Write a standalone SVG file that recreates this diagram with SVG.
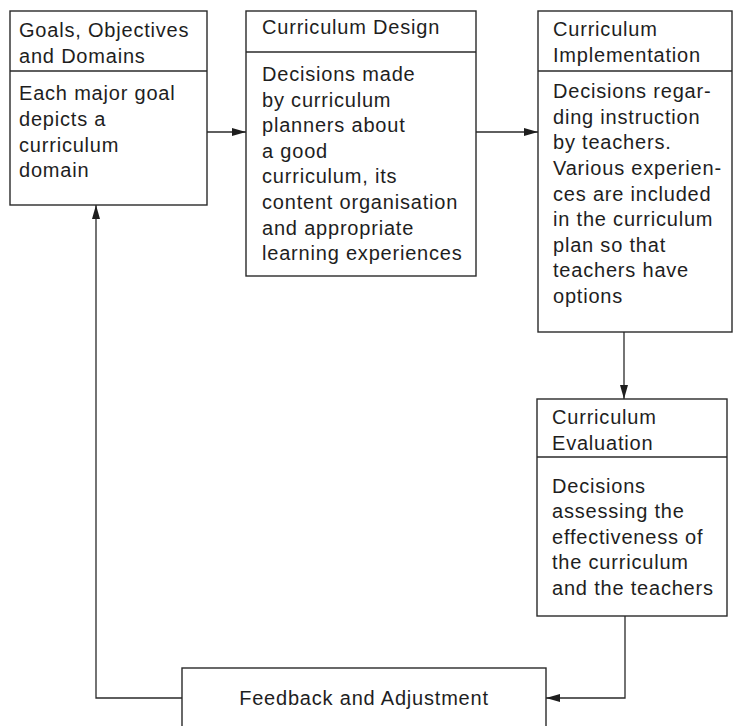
<svg xmlns="http://www.w3.org/2000/svg" width="734" height="726" viewBox="0 0 734 726">
<style>
.box{fill:#fff;stroke:#2a2a2a;stroke-width:1.4}
.div{stroke:#2a2a2a;stroke-width:1.3}
.t{font-family:"Liberation Sans",Arial,sans-serif;font-size:20px;letter-spacing:0.8px;fill:#1e1e1e}
.c{fill:none;stroke:#2a2a2a;stroke-width:1.3}
</style>
<defs>
<marker id="ah" viewBox="0 0 14 8" refX="14" refY="4" markerWidth="14" markerHeight="8" markerUnits="userSpaceOnUse" orient="auto">
<path d="M0,0 L14,4 L0,8 Z" fill="#1e1e1e"/>
</marker>
</defs>
<rect width="734" height="726" fill="#fff"/>
<g id="connectors">
<line class="c" x1="207" y1="132" x2="246" y2="132" marker-end="url(#ah)"/>
<line class="c" x1="476" y1="132" x2="538" y2="132" marker-end="url(#ah)"/>
<line class="c" x1="624" y1="332" x2="624" y2="399" marker-end="url(#ah)"/>
<polyline class="c" points="625,616 625,698 546,698" marker-end="url(#ah)"/>
<polyline class="c" points="182,698 96,698 96,205" marker-end="url(#ah)"/>
</g>
<g id="goals">
<rect class="box" x="10" y="11" width="197" height="194"/>
<line class="div" x1="10" y1="71" x2="207" y2="71"/>
<text class="t"><tspan x="19" y="37">Goals, Objectives</tspan><tspan x="19" y="63">and Domains</tspan></text>
<text class="t"><tspan x="19" y="100">Each major goal</tspan><tspan x="19" y="126">depicts a</tspan><tspan x="19" y="152">curriculum</tspan><tspan x="19" y="177">domain</tspan></text>
</g>
<g id="design">
<rect class="box" x="246" y="11" width="230" height="265"/>
<line class="div" x1="246" y1="52" x2="476" y2="52"/>
<text class="t"><tspan x="262" y="34">Curriculum Design</tspan></text>
<text class="t"><tspan x="262" y="81">Decisions made</tspan><tspan x="262" y="107">by curriculum</tspan><tspan x="262" y="132">planners about</tspan><tspan x="262" y="158">a good</tspan><tspan x="262" y="183">curriculum, its</tspan><tspan x="262" y="209">content organisation</tspan><tspan x="262" y="235">and appropriate</tspan><tspan x="262" y="260">learning experiences</tspan></text>
</g>
<g id="implementation">
<rect class="box" x="538" y="11" width="194" height="321"/>
<line class="div" x1="538" y1="71" x2="732" y2="71"/>
<text class="t"><tspan x="553" y="36">Curriculum</tspan><tspan x="553" y="62">Implementation</tspan></text>
<text class="t"><tspan x="553" y="98">Decisions regar-</tspan><tspan x="553" y="124">ding instruction</tspan><tspan x="553" y="149">by teachers.</tspan><tspan x="553" y="175">Various experien-</tspan><tspan x="553" y="201">ces are included</tspan><tspan x="553" y="226">in the curriculum</tspan><tspan x="553" y="252">plan so that</tspan><tspan x="553" y="277">teachers have</tspan><tspan x="553" y="303">options</tspan></text>
</g>
<g id="evaluation">
<rect class="box" x="537" y="399" width="190" height="217"/>
<line class="div" x1="537" y1="457" x2="727" y2="457"/>
<text class="t"><tspan x="552" y="424">Curriculum</tspan><tspan x="552" y="450">Evaluation</tspan></text>
<text class="t"><tspan x="552" y="493">Decisions</tspan><tspan x="552" y="518">assessing the</tspan><tspan x="552" y="544">effectiveness of</tspan><tspan x="552" y="569">the curriculum</tspan><tspan x="552" y="595">and the teachers</tspan></text>
</g>
<g id="feedback">
<rect class="box" x="182" y="668" width="364" height="70"/>
<text class="t" x="364" y="705" text-anchor="middle">Feedback and Adjustment</text>
</g>
</svg>
